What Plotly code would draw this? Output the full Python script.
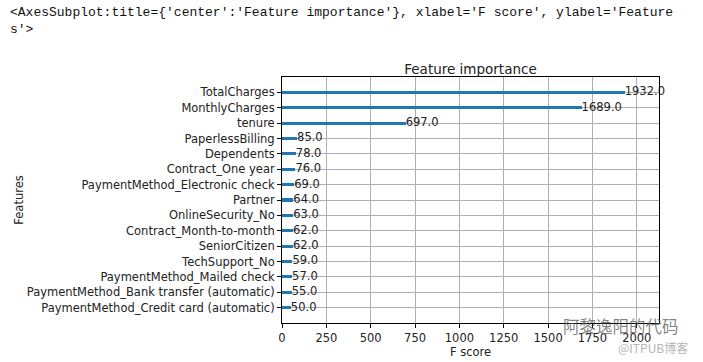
import plotly.graph_objects as go

features = [
    "PaymentMethod_Credit card (automatic)",
    "PaymentMethod_Bank transfer (automatic)",
    "PaymentMethod_Mailed check",
    "TechSupport_No",
    "SeniorCitizen",
    "Contract_Month-to-month",
    "OnlineSecurity_No",
    "Partner",
    "PaymentMethod_Electronic check",
    "Contract_One year",
    "Dependents",
    "PaperlessBilling",
    "tenure",
    "MonthlyCharges",
    "TotalCharges",
]
scores = [50, 55, 57, 59, 62, 62, 63, 64, 69, 76, 78, 85, 697, 1689, 1932]
x_ticks = [0, 250, 500, 750, 1000, 1250, 1500, 1750, 2000]

labels = [f"{v:.1f}" for v in scores]
xmax = max(scores) * 1.1

fig = go.Figure()
fig.add_trace(go.Bar(
    x=scores, y=features, orientation="h", width=0.2,
    marker=dict(color="#1f77b4", line=dict(width=0)),
    showlegend=False, hoverinfo="skip",
))
fig.add_trace(go.Scatter(
    x=scores, y=features, mode="text", text=labels,
    textposition="middle right",
    textfont=dict(family="DejaVu Sans", size=11.5, color="#222222"),
    showlegend=False, hoverinfo="skip", cliponaxis=False,
))

fig.update_layout(
    width=703, height=362,
    margin=dict(l=282, r=44, t=77, b=39, autoexpand=False),
    paper_bgcolor="white", plot_bgcolor="white",
    font=dict(family="DejaVu Sans", size=11.5, color="#222222"),
    title=dict(text="Feature importance", x=0.5, xref="paper", xanchor="center",
               y=1, yref="paper", yanchor="bottom", pad=dict(b=3),
               font=dict(family="DejaVu Sans", size=13.5, color="#222222")),
    bargap=0,
)
fig.update_xaxes(
    range=[0, xmax], tickvals=x_ticks, ticktext=[str(t) for t in x_ticks],
    showgrid=True, gridcolor="#b0b0b0", gridwidth=0.8,
    showline=True, linecolor="black", linewidth=1, mirror=True,
    ticks="outside", ticklen=4, tickcolor="black",
    zeroline=False, automargin=False,
    title=dict(text="F score", standoff=2, font=dict(size=11.5)),
    tickfont=dict(size=11.5),
)
fig.update_yaxes(
    range=[-1, len(features)], type="category",
    showgrid=True, gridcolor="#b0b0b0", gridwidth=0.8,
    showline=True, linecolor="black", linewidth=1, mirror=True,
    ticks="outside", ticklen=4, tickcolor="black", automargin=False,
    title=dict(text="Features", standoff=0, font=dict(size=11.5)),
    tickfont=dict(size=11.5),
)

fig.add_annotation(
    text="&lt;AxesSubplot:title={'center':'Feature importance'}, xlabel='F score', ylabel='Feature",
    xref="paper", yref="paper", x=-274/377, y=(362-12-39)/246, xanchor="left", yanchor="middle",
    showarrow=False, font=dict(family="Liberation Mono", size=13, color="#111111"),
)
fig.add_annotation(
    text="s'&gt;",
    xref="paper", yref="paper", x=-274/377, y=(362-30-39)/246, xanchor="left", yanchor="middle",
    showarrow=False, font=dict(family="Liberation Mono", size=13, color="#111111"),
)
fig.add_annotation(
    text="阿黎逸阳的代码",
    xref="paper", yref="paper", x=(621-282)/377, y=(362-326-39)/246, xanchor="center", yanchor="middle",
    showarrow=False, font=dict(family="Noto Sans CJK SC", size=16.5, color="rgba(90,90,90,0.75)"),
)
fig.add_annotation(
    text="@ITPUB博客",
    xref="paper", yref="paper", x=(653-282)/377, y=(362-347-39)/246, xanchor="center", yanchor="middle",
    showarrow=False, font=dict(family="Noto Sans CJK SC", size=12, color="rgba(170,170,170,0.9)"),
)

fig.write_html(
    "out.html",
    config={"displayModeBar": False},
    post_script="document.body.style.margin='0';document.body.style.padding='0';",
)
